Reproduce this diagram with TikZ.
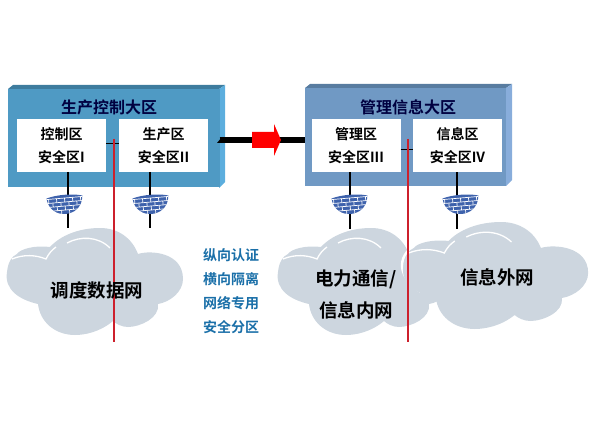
\documentclass[tikz,border=0pt]{standalone}
\usepackage{fontspec}
\setmainfont[BoldFont={Noto Sans CJK SC Bold}]{Noto Sans CJK SC}
\definecolor{colgreen}{RGB}{79,154,196}
\definecolor{colgreentop}{RGB}{62,124,158}
\definecolor{colgreenside}{RGB}{92,174,222}
\definecolor{colslate}{RGB}{112,153,196}
\definecolor{colslatetop}{RGB}{88,124,160}
\definecolor{colslateside}{RGB}{136,173,219}
\definecolor{colcloud}{RGB}{205,214,223}
\definecolor{colwall}{RGB}{62,98,172}
\definecolor{coltext}{RGB}{26,111,168}
\definecolor{colline}{RGB}{205,32,44}
\tikzset{
  panel/.style={minimum width=#1, minimum height=98, inner sep=0, outer sep=0},
  panel/.default=212,
  zone/.style={fill=white, minimum width=89, minimum height=53, inner sep=0, outer sep=0, align=center, font=\bfseries\fontsize{14}{23}\selectfont},
  title/.style={font=\bfseries\fontsize{16}{18}\selectfont, text=black!75!blue},
  netlabel/.style={font=\bfseries\fontsize{18.5}{20}\selectfont},
  sidelabel/.style={font=\bfseries\fontsize{14}{16}\selectfont, text=coltext},
  link/.style={line width=1.6, black},
  cut/.style={line width=1.8, colline},
  netcloud/.pic={
    \fill[colcloud] (38,304) .. controls (20,300) and (4,290) .. (7,272)
      .. controls (8,262) and (12,256) .. (17,254)
      .. controls (20,249) and (35,245) .. (50,247)
      .. controls (60,236) and (78,228) .. (100,228)
      .. controls (118,228) and (132,238) .. (138,254)
      .. controls (150,250) and (183,252) .. (183,279)
      .. controls (183,292) and (170,302) .. (158,304)
      .. controls (160,318) and (140,327) .. (128,327)
      .. controls (122,327) and (116,324) .. (113,321)
      .. controls (100,332) and (85,335) .. (75,335)
      .. controls (55,335) and (40,322) .. (38,304) -- cycle;
    \draw[white, line width=1.3] (12,259) .. controls (24,254) and (36,255) .. (46,259)
      .. controls (49,253) and (52,250) .. (56,247);
    \draw[white, line width=1.3] (67,243) .. controls (80,236) and (98,236) .. (110,248);
  },
  firewall/.pic={
    \begin{scope}[rotate=5]
      \path[clip] (-18,-7) .. controls (-8,-10) and (8,-10) .. (18,-7)
        .. controls (17,5) and (8,10) .. (0,10)
        .. controls (-8,10) and (-17,5) .. (-18,-7) -- cycle;
      \fill[colwall] (-20,-12) rectangle (20,12);
      \foreach \row in {-6,-2,2,6} {
        \draw[white, line width=0.7] (-20,\row) -- (20,\row);
      }
      \foreach \col in {-16,-8,0,8,16} {
        \draw[white, line width=0.7] (\col,-6) -- (\col,-2);
        \draw[white, line width=0.7] (\col,2) -- (\col,6);
        \draw[white, line width=0.7] (\col+4,-2) -- (\col+4,2);
        \draw[white, line width=0.7] (\col+4,6) -- (\col+4,10);
      }
    \end{scope}
  }
}
\begin{document}
\begin{tikzpicture}[x=1pt, y=-1pt]
  \useasboundingbox (0,0) rectangle (600,425);

  % Draw clouds
  \pic at (0,0) {netcloud};
  \pic at (271,0) {netcloud};
  \draw[white, line width=2.5] (414,246) .. controls (398,256) and (396,276) .. (421,292);
  \pic[xscale=1.05] at (396,-6) {netcloud};

  % Draw left panel
  \fill[colgreentop] (8,89) -- (13,85) -- (225,85) -- (219,89) -- cycle;
  \fill[colgreenside] (219,89) -- (225,85) -- (225,182) -- (219,188) -- cycle;
  \node[panel, fill=colgreen] (panelL) at (113.5,138.5) {};

  % Draw right panel
  \fill[colslatetop] (305,88) -- (310,84) -- (512,84) -- (506,88) -- cycle;
  \fill[colslateside] (506,88) -- (512,84) -- (512,180) -- (506,186) -- cycle;
  \node[panel=201, fill=colslate] (panelR) at (405.5,137) {};

  % Panel titles
  \node[title] (titleL) at (109,107) {生产控制大区};
  \node[title] (titleR) at (408,107) {管理信息大区};

  % Security zones
  \node[zone] (zoneA) at (61.5,145.5) {控制区\\安全区I};
  \node[zone] (zoneB) at (163.5,145.5) {生产区\\安全区II};
  \node[zone] (zoneC) at (356,146) {管理区\\安全区III};
  \node[zone] (zoneD) at (457.5,146) {信息区\\安全区IV};
  \draw[black, line width=0.6] ([yshift=2.5]zoneA.east) -- ([yshift=2.5]zoneB.west);
  \draw[black, line width=0.6] ([yshift=-3]zoneC.east) -- ([yshift=-3]zoneD.west);

  % Links down to the firewalls
  \coordinate (endA) at (68,228);
  \coordinate (endB) at (150,228);
  \coordinate (endC) at (350,229);
  \coordinate (endD) at (457,229);
  \draw[link] (zoneA.south -| endA) -- (endA);
  \draw[link] (zoneB.south -| endB) -- (endB);
  \draw[link] (zoneC.south -| endC) -- (endC);
  \draw[link] (zoneD.south -| endD) -- (endD);
  \pic at (65,204) {firewall};
  \pic at (151,204) {firewall};
  \pic at (350,204) {firewall};
  \pic at (461,204) {firewall};

  % Link between panels
  \coordinate (barmid) at (266,140);
  \draw[line width=6, black] (panelL.east |- barmid) -- (panelR.west |- barmid);
  \fill[black] (217,143) -- (222,137) -- (222,143) -- cycle;
  \fill[red] (252,132) -- (274,132) -- (274,124) -- (281,140) -- (274,156) -- (274,148) -- (252,148) -- cycle;

  % Vertical cuts
  \coordinate (cutLtop) at (114,139);
  \coordinate (cutLend) at (114,342);
  \coordinate (cutRtop) at (408,139);
  \coordinate (cutRend) at (408,342);
  \draw[cut] (cutLtop) -- (cutLend);
  \draw[cut] (cutRtop) -- (cutRend);

  % Cloud labels
  \node[netlabel] (netA) at (97,290) {调度数据网};
  \node[netlabel] (netB) at (356,279) {电力通信/};
  \node[netlabel] (netC) at (356,310) {信息内网};
  \node[netlabel] (netD) at (497,277) {信息外网};

  % Middle labels
  \node[sidelabel] (ruleA) at (231,255) {纵向认证};
  \node[sidelabel] (ruleB) at (231,279) {横向隔离};
  \node[sidelabel] (ruleC) at (231,303) {网络专用};
  \node[sidelabel] (ruleD) at (231,327) {安全分区};
\end{tikzpicture}
\end{document}
